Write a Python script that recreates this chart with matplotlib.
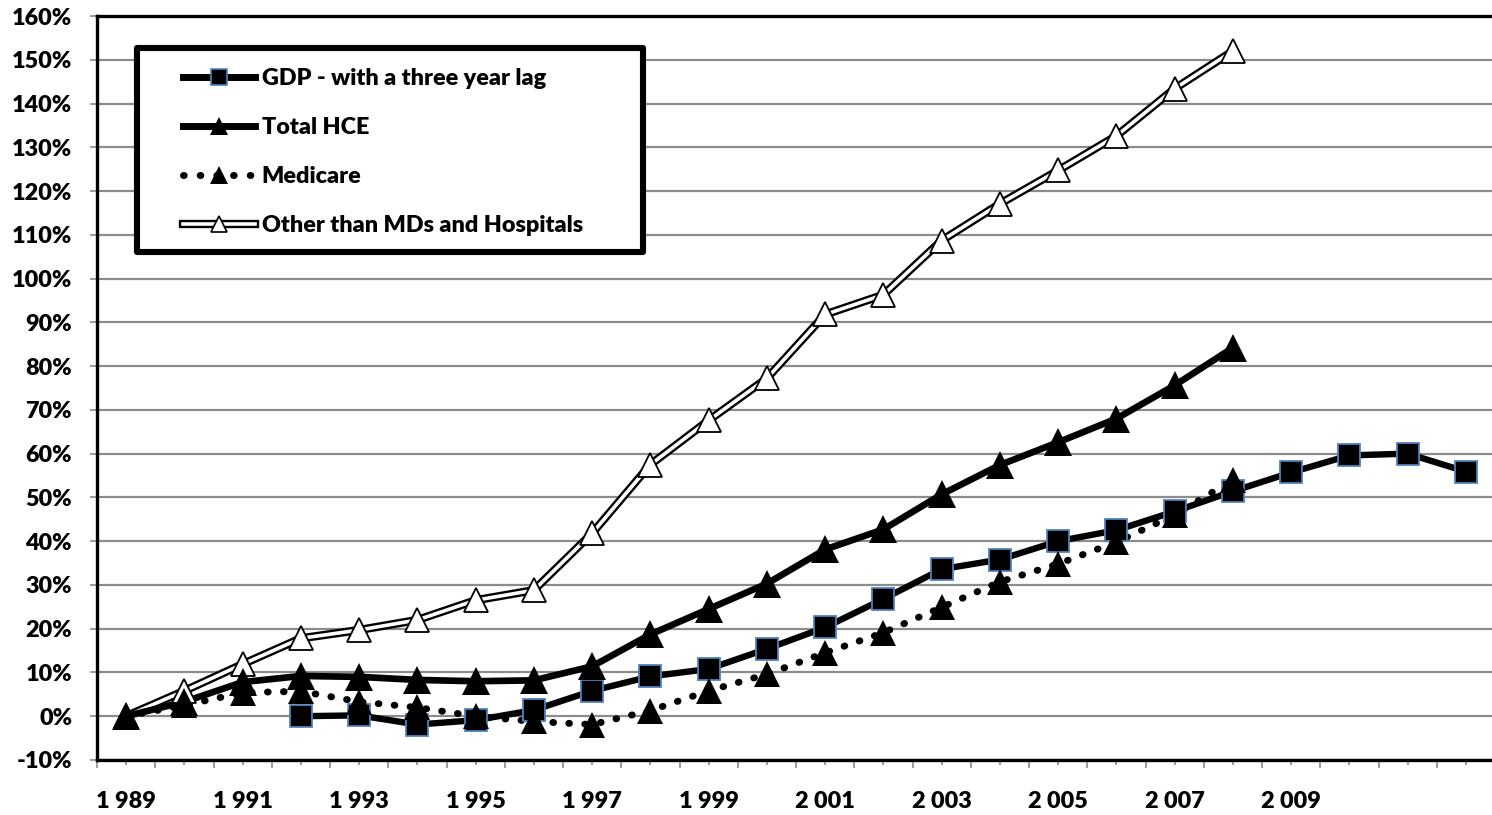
import matplotlib.pyplot as plt
from matplotlib.lines import Line2D
from matplotlib.patches import Rectangle

plt.rcParams['font.family'] = ['Lato', 'DejaVu Sans']
plt.rcParams['font.weight'] = 'heavy'

# cumulative growth since 1989, in percent
years = list(range(1989, 2009))
gdp_years = list(range(1992, 2013))
gdp_lag = [0.0, 0.2, -1.9, -0.9, 1.4, 5.8, 9.1, 10.8, 15.4, 20.3, 26.8,
           33.6, 35.8, 40.0, 42.5, 46.8, 51.4, 55.7, 59.6, 60.0, 55.9]
total_hce = [0.0, 3.3, 7.8, 9.2, 9.0, 8.3, 8.0, 8.2, 11.4, 18.7, 24.5,
             30.3, 38.1, 42.7, 50.7, 57.4, 62.6, 68.0, 75.6, 84.2]
medicare = [0.0, 2.5, 5.4, 5.7, 3.3, 2.0, 0.0, -1.2, -1.9, 1.3, 5.8,
            9.6, 14.5, 19.1, 24.9, 30.7, 34.8, 39.8, 46.0, 54.0]
other = [0.0, 5.8, 11.9, 17.8, 19.7, 22.0, 26.5, 28.8, 41.8, 57.5, 67.6,
         77.2, 91.8, 96.3, 108.7, 117.1, 124.7, 132.6, 143.4, 152.0]

all_years = list(range(1989, 2013))
label_years = list(range(1989, 2010, 2))
y_ticks = list(range(-10, 161, 10))

SQ_EDGE = '#4f81bd'
GRID = '#8c8c8c'
FS = 16.8

fig = plt.figure(figsize=(14.92, 8.15), dpi=100)
ax = fig.add_axes([97 / 1492, 55 / 815, 1398 / 1492, 744 / 815])

# lines first, markers on top
ax.plot(gdp_years, gdp_lag, color='black', lw=4.6, solid_joinstyle='round', zorder=3)
ax.plot(years, total_hce, color='black', lw=4.8, solid_joinstyle='round', zorder=3.1)
ax.plot(years, medicare, color='black', lw=5, linestyle=(0, (0.1, 2.2)),
        dash_capstyle='round', zorder=3.2)
ax.plot(years, other, color='black', lw=6, solid_joinstyle='round', zorder=2.8)
ax.plot(years, other, color='white', lw=2.6, solid_joinstyle='round', zorder=2.9)

ax.plot(years, other, ls='none', marker='^', ms=17.5, mfc='white',
        mec='black', mew=1.3, zorder=3.9)
ax.plot(gdp_years, gdp_lag, ls='none', marker='s', ms=16, mfc='black',
        mec=SQ_EDGE, mew=1.3, zorder=4)
ax.plot(years, total_hce, ls='none', marker='^', ms=19.5, mfc='black',
        mec='black', mew=0, zorder=4.1)
ax.plot(years, medicare, ls='none', marker='^', ms=18.5, mfc='black',
        mec='black', mew=0, zorder=4.2)

ax.set_xlim(1988.5, 2012.5)
ax.set_ylim(-10, 160)

ax.set_xticks([y - 0.5 for y in all_years] + [2012.5])
ax.set_xticklabels([])
ax.set_xticks(all_years, minor=True)
ax.set_xticklabels(['%d %03d' % (y // 1000, y % 1000) if y in label_years else ''
                    for y in all_years], minor=True)
ax.set_yticks(y_ticks)
ax.set_yticklabels(['%d%%' % v for v in y_ticks])

ax.tick_params(axis='x', which='major', length=5.5, width=1.2, color=GRID)
ax.tick_params(axis='x', which='minor', length=3.5, width=1.2, color=GRID,
               pad=19, labelsize=FS)
ax.tick_params(axis='y', length=5, width=1.2, color=GRID, pad=13, labelsize=FS)

ax.yaxis.grid(True, color=GRID, lw=1.6)
ax.set_axisbelow(True)
for side in ['top', 'left', 'bottom']:
    ax.spines[side].set_color('black')
    ax.spines[side].set_linewidth(2.4)
ax.spines['right'].set_visible(False)

# legend box
fig.patches.append(Rectangle((137 / 1492, 1 - 252 / 815), 506 / 1492, 204 / 815,
                             transform=fig.transFigure, facecolor='white',
                             edgecolor='black', lw=4.4, joinstyle='round', zorder=5))

h_gdp = Line2D([], [], color='black', lw=5, marker='s', ms=12, mfc='black',
               mec=SQ_EDGE, mew=1.2)
h_hce = Line2D([], [], color='black', lw=5, marker='^', ms=13, mfc='black', mew=0)
h_med = Line2D([], [], color='black', lw=5, linestyle=(0, (0.1, 2.3)),
               dash_capstyle='round', marker='^', ms=13, mfc='black', mew=0)
h_oth = (Line2D([], [], color='black', lw=6),
         Line2D([], [], color='white', lw=2.6, marker='^', ms=12, mfc='white',
                mec='black', mew=1.2))

leg = fig.legend([h_gdp, h_hce, h_med, h_oth],
                 ['GDP - with a three year lag', 'Total HCE', 'Medicare',
                  'Other than MDs and Hospitals'],
                 loc='upper left', bbox_to_anchor=(183 / 1492, 1 - 68 / 815),
                 frameon=False, fontsize=FS, borderpad=0, borderaxespad=0,
                 handlelength=3.1, handletextpad=0.27, labelspacing=1.2)
leg.set_zorder(6)

fig.savefig('out.png', dpi=100)
